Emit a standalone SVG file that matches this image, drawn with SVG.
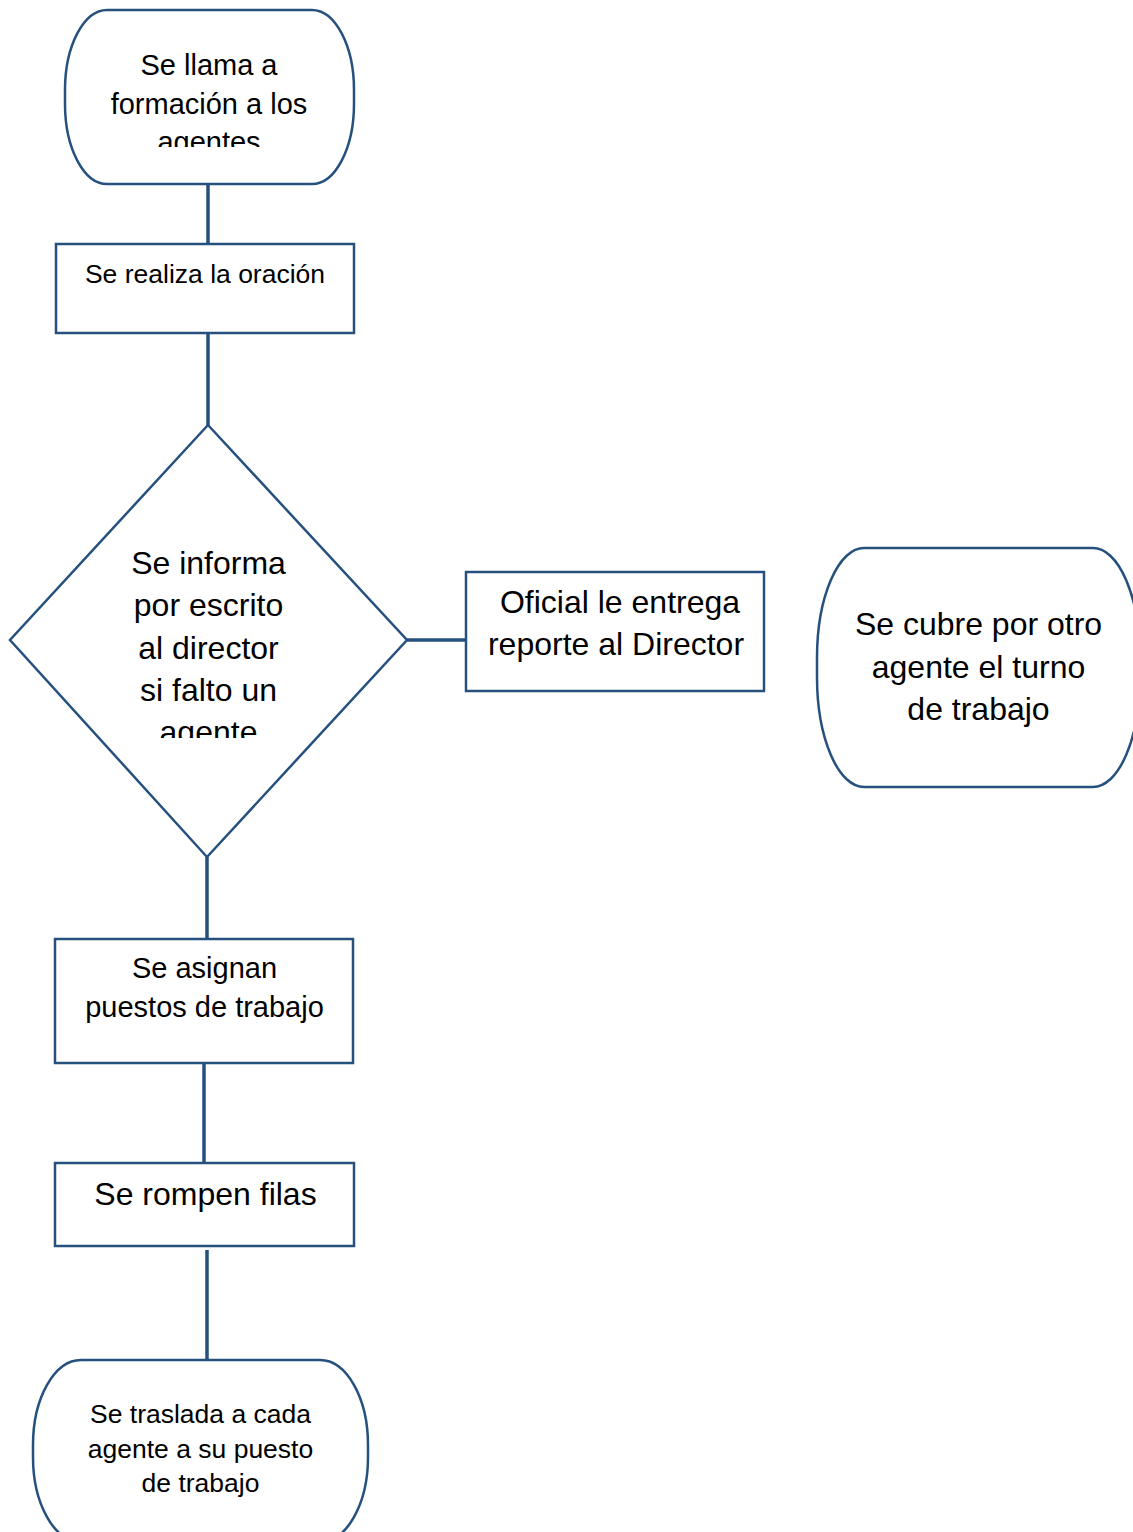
<svg xmlns="http://www.w3.org/2000/svg" width="1133" height="1532" viewBox="0 0 1133 1532">
<style>
.s{fill:#fff;stroke:#26507e;stroke-width:2.5}
.c{stroke:#26507e;stroke-width:3.5;fill:none}
text{font-family:"Liberation Sans",Arial,sans-serif;fill:#000;text-anchor:middle}
</style>
<defs>
<clipPath id="clipTop"><rect x="60" y="20" width="300" height="127"/></clipPath>
<clipPath id="clipDia"><rect x="10" y="530" width="400" height="208"/></clipPath>
</defs>
<rect width="1133" height="1532" fill="#fff"/>
<g id="connectors">
<line class="c" x1="208" y1="184" x2="208" y2="244"/>
<line class="c" x1="208" y1="333" x2="208" y2="425"/>
<line class="c" x1="407" y1="640" x2="466" y2="640"/>
<line class="c" x1="207" y1="857" x2="207" y2="939"/>
<line class="c" x1="204" y1="1063" x2="204" y2="1163"/>
<line class="c" x1="207" y1="1250" x2="207" y2="1360"/>
</g>
<g id="start">
<rect class="s" x="65" y="10" width="289" height="174" rx="42" ry="80"/>
<g clip-path="url(#clipTop)" font-size="29">
<text x="209" y="75">Se llama a</text>
<text x="209" y="113.5">formación a los</text>
<text x="209" y="152">agentes</text>
</g>
</g>
<g id="oracion">
<rect class="s" x="56" y="244" width="298" height="89"/>
<text x="205" y="283" font-size="26.5">Se realiza la oración</text>
</g>
<g id="decision">
<polygon class="s" points="208,425 407,640 207,857 10,640"/>
<g clip-path="url(#clipDia)" font-size="32">
<text x="208.5" y="574">Se informa</text>
<text x="208.5" y="616">por escrito</text>
<text x="208.5" y="658.5">al director</text>
<text x="208.5" y="701">si falto un</text>
<text x="208.5" y="743">agente</text>
</g>
</g>
<g id="oficial">
<rect class="s" x="466" y="572" width="298" height="119"/>
<text x="620" y="613" font-size="32">Oficial le entrega</text>
<text x="616" y="655" font-size="32">reporte al Director</text>
</g>
<g id="cubre">
<rect class="s" x="817" y="548" width="323" height="239" rx="47" ry="110"/>
<text x="978.5" y="635" font-size="32">Se cubre por otro</text>
<text x="978.5" y="677.5" font-size="32">agente el turno</text>
<text x="978.5" y="719.5" font-size="32">de trabajo</text>
</g>
<g id="asignan">
<rect class="s" x="55" y="939" width="298" height="124"/>
<text x="204.5" y="978" font-size="29">Se asignan</text>
<text x="204.5" y="1017" font-size="29">puestos de trabajo</text>
</g>
<g id="rompen">
<rect class="s" x="55" y="1163" width="299" height="83"/>
<text x="205.5" y="1205" font-size="32">Se rompen filas</text>
</g>
<g id="traslada">
<rect class="s" x="33" y="1360" width="335" height="182" rx="48" ry="85"/>
<text x="200.5" y="1422.5" font-size="26.5">Se traslada a cada</text>
<text x="200.5" y="1458" font-size="26.5">agente a su puesto</text>
<text x="200.5" y="1492" font-size="26.5">de trabajo</text>
</g>
</svg>
